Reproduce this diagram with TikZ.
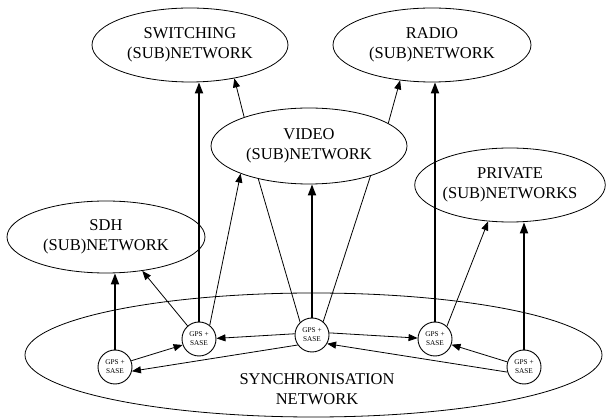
\documentclass[tikz,border=0pt]{standalone}
\usepackage{fontspec}
\setmainfont{Liberation Serif}
\usetikzlibrary{shapes.geometric,arrows.meta}
\tikzset{
  net/.style={draw, ellipse, line width=0.8pt, inner sep=0pt, align=center,
    font=\fontsize{16.5}{20}\selectfont},
  gps/.style={draw, circle, line width=0.9pt, minimum size=34pt, inner sep=0pt,
    align=center, font=\fontsize{7.3}{9}\selectfont},
  thin/.style={line width=0.8pt, -{Triangle[length=9pt,width=7pt]}},
  thick/.style={line width=1.8pt, -{Triangle[length=11pt,width=8pt]}},
  plain/.style={line width=0.8pt},
  lbl/.style={align=center, font=\fontsize{16.5}{20}\selectfont}
}
\begin{document}
\begin{tikzpicture}[x=1pt,y=-1pt]
\useasboundingbox (0,0) rectangle (608,419);
\node[net, minimum width=196pt, minimum height=74pt] (sw) at (190,45) {SWITCHING\\(SUB)NETWORK};
\node[net, minimum width=198pt, minimum height=74pt] (radio) at (432,45) {RADIO\\(SUB)NETWORK};
\node[net, minimum width=196pt, minimum height=76pt] (video) at (309,146) {VIDEO\\(SUB)NETWORK};
\node[net, minimum width=184pt, minimum height=74pt] (priv) at (510,185) {PRIVATE\\(SUB)NETWORKS};
\node[net, minimum width=198pt, minimum height=72pt] (sdh) at (106,237) {SDH\\(SUB)NETWORK};
\node[net, minimum width=577pt, minimum height=124pt] (sync) at (313.5,355) {};
\node[lbl] (synclbl) at (317,389) {SYNCHRONISATION\\NETWORK};
\node[gps] (c1) at (115,367) {GPS +\\SASE};
\node[gps] (c2) at (199,339) {GPS +\\SASE};
\node[gps] (c3) at (312,335) {GPS +\\SASE};
\node[gps] (c4) at (435,339) {GPS +\\SASE};
\node[gps] (c5) at (524,367) {GPS +\\SASE};
% thick vertical links
\draw[thick] (c1.north) -- (c1.north |- sdh.south);
\draw[thick] (c2.north) -- (c2.north |- sw.south);
\draw[thick] (c3.north) -- (c3.north |- video.south);
\draw[thick] (c4.north) -- (c4.north |- radio.south);
\draw[thick] (c5.north) -- (c5.north |- priv.south);
% thin links
\draw[thin] (c2.131) -- (sdh.-43);
\draw[thin] (c1.21) -- (c2.200);
\draw[thin] (c3.176) -- (c2.2);
\draw[thin] (c3.215) -- (c1.-14);
\draw[thin] (c3.7) -- (c4.177);
\draw[thin] (c5.163) -- (c4.-19);
\draw[thin] (c5.197) -- (c3.-30);
\draw[thin] (c2.52) -- (video.202);
\draw[plain] (video.213) -- (c3.133);
\draw[plain] (video.-26) -- (c3.50);
\draw[thin] (video.156) -- (sw.-37);
\draw[thin] (video.16) -- (radio.228);
\draw[thin] (c4.47) -- (priv.239);
\end{tikzpicture}
\end{document}
